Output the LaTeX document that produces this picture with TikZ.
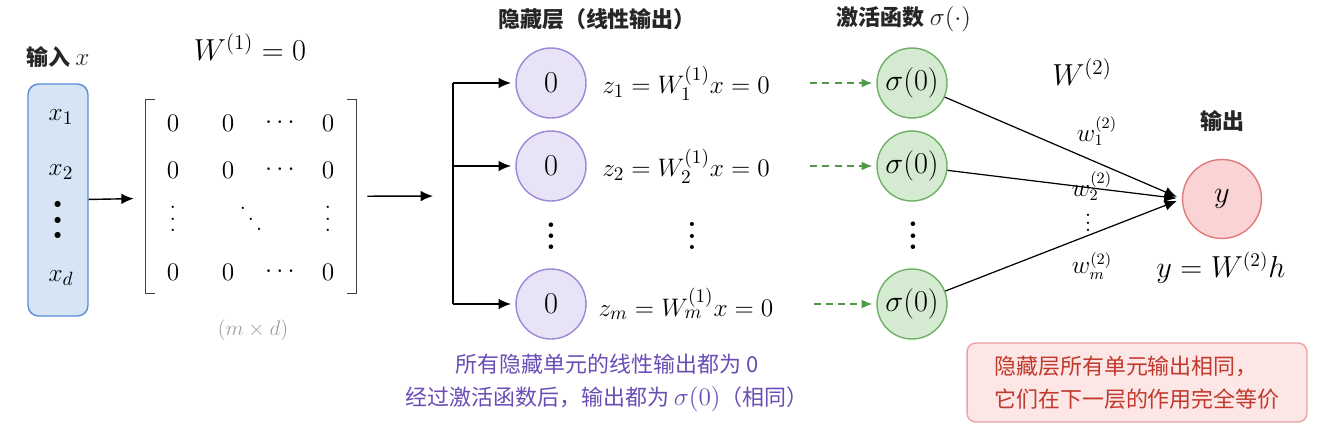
\documentclass[tikz,border=0pt]{standalone}
\usepackage{fontspec}
\usepackage{xcolor}
\usepackage{tikz}
\usetikzlibrary{arrows.meta}
\newfontfamily\cjk{Noto Sans CJK SC}

\definecolor{inputfill}{HTML}{D5E5F5}
\definecolor{inputline}{HTML}{5A8FD4}
\definecolor{hiddenfill}{HTML}{E8E3F6}
\definecolor{hiddenline}{HTML}{9B88D6}
\definecolor{actfill}{HTML}{D5EBD1}
\definecolor{actline}{HTML}{6FAF66}
\definecolor{dashgreen}{HTML}{4E9A45}
\definecolor{outfill}{HTML}{FAD4D4}
\definecolor{outline}{HTML}{E07A7A}
\definecolor{notepurple}{HTML}{6A4CB5}
\definecolor{remarkfill}{HTML}{FCE6E6}
\definecolor{remarkline}{HTML}{EBA3A3}
\definecolor{remarktext}{HTML}{C0392B}
\definecolor{sizegray}{HTML}{A0A0A0}

% columns and diagonals of dots with a given step
\newcommand{\colofdots}[1]{\vbox{\baselineskip=#1\lineskiplimit=0pt\hbox{.}\hbox{.}\hbox{.}}}
\newcommand{\diagofdots}[2]{\hbox{\raise#2\hbox{\raise#2\hbox{.}}\kern#1\raise#2\hbox{.}\kern#1\hbox{.}}}
\newcommand{\mathsize}{\fontsize{15}{15}\selectfont}

\begin{document}
\begin{tikzpicture}[
  x=0.02cm, y=-0.02cm,
  every node/.style={font=\fontsize{15.5}{18}\selectfont},
  cjklabel/.style={font=\cjk\fontsize{12.5}{18.7}\selectfont, text=black!85},
  cjktitle/.style={font=\cjk\bfseries\fontsize{12.5}{15}\selectfont, text=black!85},
  dotcol/.style={inner sep=0pt, font=\bfseries\fontsize{18}{18}\selectfont},
  hiddenunit/.style={circle, draw=hiddenline, fill=hiddenfill, line width=0.8pt,
    minimum size=1.4cm, inner sep=0pt, font=\fontsize{16.5}{18}\selectfont},
  actunit/.style={circle, draw=actline, fill=actfill, line width=0.8pt,
    minimum size=1.4cm, inner sep=0pt, font=\fontsize{16}{18}\selectfont},
  arrow/.style={-{Latex[length=7pt,width=6pt]}, line width=0.8pt},
  dasharrow/.style={-{Latex[length=6pt,width=5pt]}, draw=dashgreen, line width=0.8pt,
    dash pattern=on 4pt off 3pt, shorten <=0.68cm, shorten >=2.3pt},
  bracket/.style={draw=black!75, line width=0.9pt},
  wlabel/.style={inner sep=1pt, font=\fontsize{13.5}{15}\selectfont},
]
\useasboundingbox (0,0) rectangle (1318,430);

% input
\node[cjktitle] (inlabel) at (58,57) {输入 {\mathsize$x$}};
\node[draw=inputline, fill=inputfill, rounded corners=6pt, line width=0.8pt,
  minimum width=1.2cm, minimum height=4.64cm] (xin) at (58,200) {};
\node (x1) at (61,117) {$x_1$};
\node (x2) at (61,172) {$x_2$};
\node[dotcol, font=\bfseries\fontsize{24}{24}\selectfont] (xdots) at (58,220) {\colofdots{8.8pt}};
\node (xd) at (61,278) {$x_d$};

% first layer weights
\node[font=\fontsize{17}{18}\selectfont] (Wone) at (250,47) {$W^{(1)} = 0$};
\node[minimum width=4.2cm, minimum height=3.86cm, inner sep=0pt] (W) at (251,196.5) {};
\draw[bracket] ([xshift=0.18cm]W.north west) -- (W.north west)
  -- (W.south west) -- ([xshift=0.18cm]W.south west);
\draw[bracket] ([xshift=-0.18cm]W.north east) -- (W.north east)
  -- (W.south east) -- ([xshift=-0.18cm]W.south east);
\foreach \ry/\row in {123/1, 170/2, 272/4} {
  \node (m\row1) at (173,\ry) {$0$};
  \node (m\row2) at (228,\ry) {$0$};
  \node (m\row3) at (280,\ry) {$\cdots$};
  \node (m\row4) at (328,\ry) {$0$};
}
\node[dotcol, font=\fontsize{16}{16}\selectfont] (m31) at (173,219) {\colofdots{6.5pt}};
\node[dotcol, font=\fontsize{16}{16}\selectfont] (m32) at (251,219) {\diagofdots{0.6pt}{5.8pt}};
\node[dotcol, font=\fontsize{16}{16}\selectfont] (m34) at (328,219) {\colofdots{6.5pt}};
\node[text=sizegray, font=\fontsize{13}{15}\selectfont] (Wsize) at (253,330) {$(m \times d)$};

\draw[arrow, shorten >=0.24cm] (xin) -- (W);

% hidden layer
\node[cjktitle] (hidtitle) at (597,19) {隐藏层（线性输出）};
\coordinate (fork) at (453,196);
\draw[arrow, shorten <=0.22cm, shorten >=0.4cm] (W) -- (fork);

\node[hiddenunit] (h1) at (551,83) {$0$};
\node[hiddenunit] (h2) at (551,166) {$0$};
\node[hiddenunit] (hm) at (551,304) {$0$};
\node[dotcol] (hdots) at (551,236) {\colofdots{6.3pt}};

\draw[line width=0.8pt] (fork |- h1) -- (fork |- hm);
\foreach \h in {h1,h2,hm}
  \draw[arrow, shorten >=2.5pt] (fork |- \h) -- (\h);

\node (z1) at (686,83) {$z_1 = W_1^{(1)} x = 0$};
\node (z2) at (686,166) {$z_2 = W_2^{(1)} x = 0$};
\node (zm) at (686,304) {$z_m = W_m^{(1)} x = 0$};
\node[dotcol, font=\bfseries\fontsize{16}{16}\selectfont] (zdots) at (692,236) {\colofdots{6.3pt}};

% activation
\node[cjktitle] (acttitle) at (904,19) {激活函数 {\mathsize$\sigma(\cdot)$}};
\node[actunit] (g1) at (912,83) {$\sigma(0)$};
\node[actunit] (g2) at (912,166) {$\sigma(0)$};
\node[actunit] (gm) at (912,304) {$\sigma(0)$};
\node[dotcol] (gdots) at (913,236) {\colofdots{6.5pt}};

\draw[dasharrow] (z1) -- (g1);
\draw[dasharrow] (z2) -- (g2);
\draw[dasharrow] (zm) -- (gm);

% output
\node[font=\fontsize{16.5}{18}\selectfont] (Wtwo) at (1082,72) {$W^{(2)}$};
\node[cjktitle] (outtitle) at (1222,121) {输出};
\node[circle, draw=outline, fill=outfill, line width=0.8pt, minimum size=1.58cm,
  font=\fontsize{17}{18}\selectfont] (y) at (1222,199) {$y$};
\node[font=\fontsize{16}{18}\selectfont] (yeq) at (1221,268) {$y = W^{(2)} h$};

\foreach \g in {g1,g2,gm}
  \draw[arrow, line width=0.7pt, shorten >=3pt] (\g) -- (y.west);

\node[wlabel] (w1) at (1097,131) {$w_1^{(2)}$};
\node[wlabel] (w2) at (1092,186) {$w_2^{(2)}$};
\node[dotcol, font=\fontsize{13.5}{15}\selectfont] (wdots) at (1088,223) {\colofdots{4.2pt}};
\node[wlabel] (wm) at (1092,266) {$w_m^{(2)}$};

% notes
\node[cjklabel, text=notepurple, align=center] (note) at (607,383)
  {所有隐藏单元的线性输出都为 0\\经过激活函数后，输出都为 {\fontsize{14}{14}\selectfont$\sigma(0)$}（相同）};
\node[draw=remarkline, fill=remarkfill, rounded corners=5pt, line width=0.8pt,
  minimum width=6.8cm, minimum height=1.58cm, cjklabel, text=remarktext,
  align=left] (remark) at (1137,382.5)
  {隐藏层所有单元输出相同，\\它们在下一层的作用完全等价};
\end{tikzpicture}
\end{document}
